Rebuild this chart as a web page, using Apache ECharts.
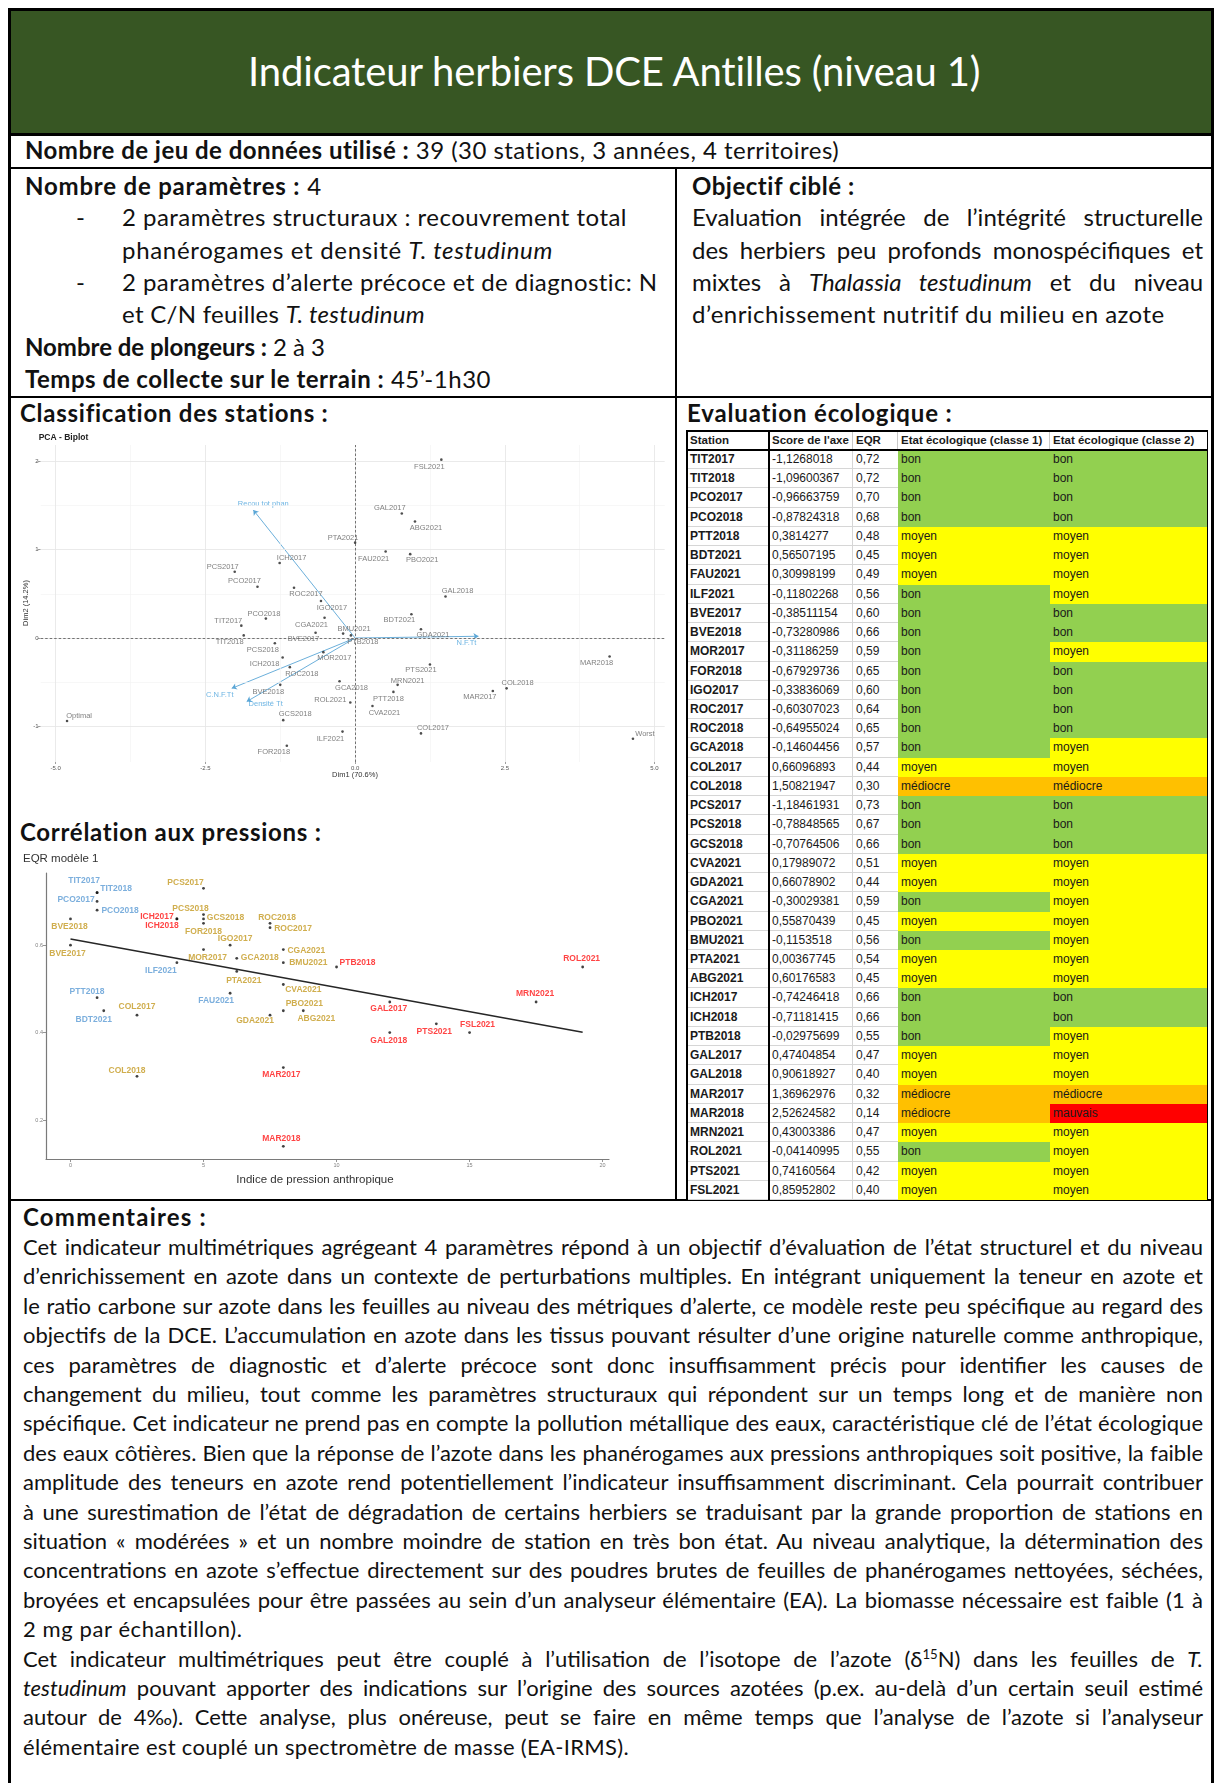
<!DOCTYPE html>
<html lang="fr"><head><meta charset="utf-8">
<script src="https://cdn.jsdelivr.net/npm/echarts@6/dist/echarts.min.js"></script>
<style>
html,body{margin:0;padding:0;background:#fff;}
body{width:1215px;height:1783px;position:relative;overflow:hidden;font-family:Lato,"Open Sans",sans-serif;color:#111;}
.ln{position:absolute;background:#000;}
.tx{position:absolute;white-space:nowrap;line-height:32px;height:32px;}
.tx .in{display:inline-block;white-space:nowrap;}
.tx sup{font-size:0.6em;line-height:0;vertical-align:0.6em;}
#hdr{position:absolute;left:10px;top:10px;width:1202px;height:124px;background:#375623;}
#tbl{position:absolute;left:687px;top:431px;width:520px;height:769px;font-family:"Liberation Sans",Arial,sans-serif;color:#1a1a1a;}
.cell{position:absolute;box-sizing:border-box;padding-left:3px;white-space:nowrap;overflow:hidden;}
#pca{position:absolute;left:20px;top:430px;width:655px;height:362px;}
#cor{position:absolute;left:20px;top:850px;width:600px;height:345px;}
</style></head>
<body>
<div id="hdr"></div>
<div class="ln" style="left:8px;top:8px;width:1206px;height:3px"></div>
<div class="ln" style="left:8px;top:8px;width:3px;height:1790px"></div>
<div class="ln" style="left:1211px;top:8px;width:3px;height:1790px"></div>
<div class="ln" style="left:8px;top:133px;width:1206px;height:3px"></div>
<div class="ln" style="left:8px;top:167px;width:1206px;height:2px"></div>
<div class="ln" style="left:8px;top:396px;width:1206px;height:2px"></div>
<div class="ln" style="left:8px;top:1199px;width:1206px;height:2px"></div>
<div class="ln" style="left:675px;top:168px;width:2px;height:1032px"></div>
<div id="pca"></div>
<div id="cor"></div>
<div id="tbl"></div>
<script>
// ---------------- DATA ----------------
const stations = ['TIT2017','TIT2018','PCO2017','PCO2018','PTT2018','BDT2021','FAU2021','ILF2021','BVE2017','BVE2018','MOR2017','FOR2018','IGO2017','ROC2017','ROC2018','GCA2018','COL2017','COL2018','PCS2017','PCS2018','GCS2018','CVA2021','GDA2021','CGA2021','PBO2021','BMU2021','PTA2021','ABG2021','ICH2017','ICH2018','PTB2018','GAL2017','GAL2018','MAR2017','MAR2018','MRN2021','ROL2021','PTS2021','FSL2021'];
const axisScores = [-1.1268018,-1.09600367,-0.96663759,-0.87824318,0.3814277,0.56507195,0.30998199,-0.11802268,-0.38511154,-0.73280986,-0.31186259,-0.67929736,-0.33836069,-0.60307023,-0.64955024,-0.14604456,0.66096893,1.50821947,-1.18461931,-0.78848565,-0.70764506,0.17989072,0.66078902,-0.30029381,0.55870439,-0.1153518,0.00367745,0.60176583,-0.74246418,-0.71181415,-0.02975699,0.47404854,0.90618927,1.36962976,2.52624582,0.43003386,-0.04140995,0.74160564,0.85952802];
const eqr = [0.72,0.72,0.70,0.68,0.48,0.45,0.49,0.56,0.60,0.66,0.59,0.65,0.60,0.64,0.65,0.57,0.44,0.30,0.73,0.67,0.66,0.51,0.44,0.59,0.45,0.56,0.54,0.45,0.66,0.66,0.55,0.47,0.40,0.32,0.14,0.47,0.55,0.42,0.40];
const etatClasse1 = ['bon','bon','bon','bon','moyen','moyen','moyen','bon','bon','bon','bon','bon','bon','bon','bon','bon','moyen','médiocre','bon','bon','bon','moyen','moyen','bon','moyen','bon','moyen','moyen','bon','bon','bon','moyen','moyen','médiocre','médiocre','moyen','bon','moyen','moyen'];
const etatClasse2 = ['bon','bon','bon','bon','moyen','moyen','moyen','moyen','bon','bon','moyen','bon','bon','bon','bon','moyen','moyen','médiocre','bon','bon','bon','moyen','moyen','moyen','moyen','moyen','moyen','moyen','bon','bon','moyen','moyen','moyen','médiocre','mauvais','moyen','moyen','moyen','moyen'];
// PCA individual coordinates (Dim1, Dim2)
const pcaDim1 = [-1.90,-1.86,-1.63,-1.49,0.64,0.94,0.51,-0.21,-0.66,-1.25,-0.53,-1.14,-0.57,-1.02,-1.09,-0.26,1.10,2.53,-2.01,-1.34,-1.20,0.29,1.10,-0.51,0.92,-0.20,0.00,1.00,-1.26,-1.21,-0.07,0.78,1.51,2.30,4.25,0.71,-0.08,1.25,1.44];
const pcaDim2 = [0.14,0.03,0.58,0.22,-0.61,0.27,0.98,-1.06,0.06,-0.53,-0.16,-1.22,0.42,0.57,-0.33,-0.49,-1.08,-0.57,0.75,-0.06,-0.93,-0.77,0.10,0.23,0.95,0.05,1.08,1.32,0.85,-0.22,0.03,1.41,0.47,-0.60,-0.21,-0.53,-0.73,-0.30,2.02];
const pcaRefNames = ['Optimal','Worst'];
const pcaRefDim1 = [-4.81,4.64];
const pcaRefDim2 = [-0.94,-1.14];
const pcaVarNames = ['Recou tot phan','N.F.Tt','C.N.F.Tt','Densité Tt'];
const pcaVarDim1 = [-1.70,2.06,-2.06,-1.81];
const pcaVarDim2 = [1.45,0.02,-0.57,-0.72];
const pcaTicksX = [-5,-2.5,0,2.5,5];
const pcaTicksY = [-1,0,1,2];
// Correlation with pressures
const pressureIndex = [1,1,1,1,1,1.25,6,4,0,0,5,5,6,7.5,7.5,6.25,2.5,2.5,5,5,5,8,7.5,8,8,8,6.25,8.75,4,4,10,12,12,8,8,17.5,19.25,13.75,15];
const territoryGroup = ['g1','g1','g1','g1','g1','g1','g1','g1','g2','g2','g2','g2','g2','g2','g2','g2','g2','g2','g2','g2','g2','g2','g2','g2','g2','g2','g2','g2','g3','g3','g3','g3','g3','g3','g3','g3','g3','g3','g3'];
const trendX = [0,19.25];
const trendY = [0.614,0.401];
const corTicksX = [0,5,10,15,20];
const corTicksY = [0.2,0.4,0.6];

// ------------- label placement (layout, not data) -------------
const pcaLabelOffsets = [[-13,-5],[-14,7],[-13,-6],[-2,-5],[-5,7],[-12,6],[-12,7],[-12,7],[-12,6],[-12,7],[11,6],[-13,6],[11,7],[12,6],[12,7],[12,7],[12,-5],[11,-5],[-12,-5],[-12,7],[12,-6],[12,7],[12,6],[-13,7],[12,6],[11,-5],[-12,-5],[11,6],[12,-5],[-18,6],[12,7],[-12,-6],[12,-6],[-13,6],[-13,6],[10,-4],[-20,-3],[-9,5],[-12,7]];
const pcaRefOffsets = [[12,-5],[12,-5]];
const pcaVarOffsets = [[10,-6],[-12,7],[-12,7],[19,2]];
const corLabelOffsets = [[-13,-12],[19,-4],[-21,-2],[23,0],[-10,-6],[-10,9],[-14,7],[-16,8],[-3,9],[-1,8],[4,8],[0,8],[5,-6],[23,1],[7,-6],[23,-1],[0,-8],[-10,-6],[-18,-6],[-13,-6],[22,-1],[20,5],[-15,6],[23,1],[21,-7],[25,0],[7,9],[13,8],[-20,-2],[-15,7],[21,-4],[-1,7],[-1,8],[-2,7],[-2,-8],[-1,-8],[-1,-8],[-2,8],[8,-8]];
const groupColors = {g1:'#5b9bd5', g2:'#c49a22', g3:'#ff1414'};
const stateColors = {'bon':'#92d050','moyen':'#ffff00','médiocre':'#ffc000','mauvais':'#ff0000'};

// ---------------- TEXT ----------------
// [x, yCenter, targetWidth, mode, fontSize, html, color]
const UP = 24;
const textLines = [
 [248,72,733,'f',40,'Indicateur herbiers DCE Antilles (niveau 1)','#fff'],
 [25,151,815,'f',UP,'<b>Nombre de jeu de données utilisé :</b> 39 (30 stations, 3 années, 4 territoires)'],
 [25,187,297,'f',UP,'<b>Nombre de paramètres :</b> 4'],
 [76,218,0,'',UP,'-'],
 [122,218,505,'f',UP,'2 paramètres structuraux : recouvrement total'],
 [122,251,431,'f',UP,'phanérogames et densité <i>T. testudinum</i>'],
 [76,283,0,'',UP,'-'],
 [122,283,536,'f',UP,'2 paramètres d’alerte précoce et de diagnostic: N'],
 [122,315,303,'f',UP,'et C/N feuilles <i>T. testudinum</i>'],
 [25,348,300,'f',UP,'<b>Nombre de plongeurs :</b> 2 à 3'],
 [25,380,466,'f',UP,'<b>Temps de collecte sur le terrain :</b> 45’-1h30'],
 [692,187,163,'f',UP,'<b>Objectif ciblé :</b>'],
 [692,218,511,'j',UP,'Evaluation intégrée de l’intégrité structurelle'],
 [692,251,511,'j',UP,'des herbiers peu profonds monospécifiques et'],
 [692,283,511,'j',UP,'mixtes à <i>Thalassia testudinum</i> et du niveau'],
 [692,315,473,'f',UP,'d’enrichissement nutritif du milieu en azote'],
 [20,414,309,'f',UP,'<b>Classification des stations :</b>'],
 [687,414,266,'f',UP,'<b>Evaluation écologique :</b>'],
 [20,833,302,'f',UP,'<b>Corrélation aux pressions :</b>'],
 [23,1218,184,'f',UP,'<b>Commentaires :</b>']
];
const commentLines = [
 ['j','Cet indicateur multimétriques agrégeant 4 paramètres répond à un objectif d’évaluation de l’état structurel et du niveau'],
 ['j','d’enrichissement en azote dans un contexte de perturbations multiples. En intégrant uniquement la teneur en azote et'],
 ['j','le ratio carbone sur azote dans les feuilles au niveau des métriques d’alerte, ce modèle reste peu spécifique au regard des'],
 ['j','objectifs de la DCE. L’accumulation en azote dans les tissus pouvant résulter d’une origine naturelle comme anthropique,'],
 ['j','ces paramètres de diagnostic et d’alerte précoce sont donc insuffisamment précis pour identifier les causes de'],
 ['j','changement du milieu, tout comme les paramètres structuraux qui répondent sur un temps long et de manière non'],
 ['j','spécifique. Cet indicateur ne prend pas en compte la pollution métallique des eaux, caractéristique clé de l’état écologique'],
 ['j','des eaux côtières. Bien que la réponse de l’azote dans les phanérogames aux pressions anthropiques soit positive, la faible'],
 ['j','amplitude des teneurs en azote rend potentiellement l’indicateur insuffisamment discriminant. Cela pourrait contribuer'],
 ['j','à une surestimation de l’état de dégradation de certains herbiers se traduisant par la grande proportion de stations en'],
 ['j','situation « modérées » et un nombre moindre de station en très bon état. Au niveau analytique, la détermination des'],
 ['j','concentrations en azote s’effectue directement sur des poudres brutes de feuilles de phanérogames nettoyées, séchées,'],
 ['j','broyées et encapsulées pour être passées au sein d’un analyseur élémentaire (EA). La biomasse nécessaire est faible (1 à'],
 ['f220','2 mg par échantillon).'],
 ['j','Cet indicateur multimétriques peut être couplé à l’utilisation de l’isotope de l’azote (δ<sup>15</sup>N) dans les feuilles de <i>T.</i>'],
 ['j','<i>testudinum</i> pouvant apporter des indications sur l’origine des sources azotées (p.ex. au-delà d’un certain seuil estimé'],
 ['j','autour de 4‰). Cette analyse, plus onéreuse, peut se faire en même temps que l’analyse de l’azote si l’analyseur'],
 ['f606','élémentaire est couplé un spectromètre de masse (EA-IRMS).']
];
commentLines.forEach((c,i)=>{
  const mode = c[0]==='j' ? 'j' : 'f';
  const w = c[0]==='j' ? 1180 : parseFloat(c[0].slice(1));
  textLines.push([23, 1248 + i*29.4, w, mode, 22, c[1]]);
});

const spans = [];
textLines.forEach(t=>{
  const d = document.createElement('div');
  d.className='tx';
  d.style.left = t[0]+'px';
  d.style.top = (t[1]-17)+'px';
  d.style.fontSize = t[4]+'px';
  if (t[6]) d.style.color = t[6];
  if (t[4] > 30) { d.style.lineHeight='48px'; d.style.height='48px'; d.style.top=(t[1]-25)+'px'; }
  const s = document.createElement('span');
  s.className='in';
  s.innerHTML = t[5];
  d.appendChild(s);
  document.body.appendChild(d);
  spans.push([s,t[2],t[3]]);
});
function fitAll(){
  spans.forEach(([s,target,mode])=>{
    s.style.letterSpacing=''; s.style.wordSpacing='';
    if(!target) return;
    const w = s.getBoundingClientRect().width;
    const txt = s.textContent;
    const sp = (txt.match(/ /g)||[]).length;
    if(mode==='j' && w<target && sp>0){ s.style.wordSpacing = ((target-w)/sp)+'px'; }
    else { s.style.letterSpacing = ((target-w)/txt.length)+'px'; }
  });
}
fitAll();
if (document.fonts && document.fonts.ready) document.fonts.ready.then(fitAll);

// ---------------- TABLE ----------------
(function(){
  const tbl = document.getElementById('tbl');
  const colX = [0,82,166,211,363,520];
  const headH = 19, rowH = (769-19)/39;
  const headers = ['Station','Score de l\'axe','EQR','Etat écologique (classe 1)','Etat écologique (classe 2)'];
  function cell(x,y,w,h,html,st){
    const c=document.createElement('div'); c.className='cell';
    c.style.left=x+'px'; c.style.top=y+'px'; c.style.width=w+'px'; c.style.height=h+'px';
    c.style.lineHeight=h+'px';
    Object.assign(c.style, st||{});
    c.innerHTML=html; tbl.appendChild(c);
  }
  headers.forEach((h,j)=>{
    cell(colX[j],0,colX[j+1]-colX[j],headH,h,{fontWeight:'bold',fontSize:'11.5px',borderRight: j<4?'1px solid #c8c8c8':'none'});
  });
  const fmt = v => String(v).replace('.',',');
  stations.forEach((s,i)=>{
    const y = headH + i*rowH;
    const line = '1px solid #d6d6d6';
    cell(colX[0],y,colX[1]-colX[0],rowH,s,{fontWeight:'bold',fontSize:'12px',borderBottom:line});
    cell(colX[1],y,colX[2]-colX[1],rowH,fmt(axisScores[i]),{fontSize:'12px',borderBottom:line,borderRight:line});
    cell(colX[2],y,colX[3]-colX[2],rowH,eqr[i].toFixed(2).replace('.',','),{fontSize:'12px',borderBottom:line});
    cell(colX[3],y,colX[4]-colX[3],rowH+0.5,etatClasse1[i],{fontSize:'12px',background:stateColors[etatClasse1[i]]});
    cell(colX[4],y,colX[5]-colX[4],rowH+0.5,etatClasse2[i],{fontSize:'12px',background:stateColors[etatClasse2[i]]});
  });
  const b = (x,y,w,h)=>{const d=document.createElement('div');d.style.cssText='position:absolute;background:#000;left:'+x+'px;top:'+y+'px;width:'+w+'px;height:'+h+'px';tbl.appendChild(d);};
  b(-1,-1,522,1.5); b(-1,-1,1.5,771); b(519.5,-1,1.5,771); b(-1,768.5,522,1.5);
  b(0,headH-1,520,1.5); b(81,0,1.5,769);
})();

// ---------------- PCA BIPLOT ----------------
const pcaChart = echarts.init(document.getElementById('pca'), null, {renderer:'canvas'});
const lblFont = '"Liberation Sans", Arial, sans-serif';
const pcaPoints = stations.map((s,i)=>({name:s, value:[pcaDim1[i],pcaDim2[i]], label:{offset:pcaLabelOffsets[i]}}));
const pcaRefPoints = pcaRefNames.map((s,i)=>({name:s, value:[pcaRefDim1[i],pcaRefDim2[i]], label:{offset:pcaRefOffsets[i]}}));
const gridMajor = '#e8e8e8', gridMinor = '#f3f3f3';
const pcaGrid = [];
[-3.75,-1.25,1.25,3.75].forEach(v=>pcaGrid.push({xAxis:v,lineStyle:{color:gridMinor,width:0.7,type:'solid'}}));
[-0.5,0.5,1.5].forEach(v=>pcaGrid.push({yAxis:v,lineStyle:{color:gridMinor,width:0.7,type:'solid'}}));
pcaTicksX.forEach(v=>pcaGrid.push({xAxis:v,lineStyle:{color:gridMajor,width:0.9,type:'solid'}}));
pcaTicksY.forEach(v=>pcaGrid.push({yAxis:v,lineStyle:{color:gridMajor,width:0.9,type:'solid'}}));
pcaChart.setOption({
  animation:false,
  grid:{left:20.7,top:15,width:624,height:317,containLabel:false},
  xAxis:{type:'value',min:-5.25,max:5.17,
    axisLine:{show:false,onZero:false},
    axisTick:{show:true,customValues:pcaTicksX,length:2,lineStyle:{color:'#888',width:0.8}},
    axisLabel:{customValues:pcaTicksX,formatter:v=>v.toFixed(1),fontSize:6,color:'#555',margin:3,fontFamily:lblFont},
    splitLine:{show:false}},
  yAxis:{type:'value',min:-1.404,max:2.186,
    axisLine:{show:false,onZero:false},
    axisTick:{show:true,customValues:pcaTicksY,length:3,lineStyle:{color:'#888',width:0.8}},
    axisLabel:{customValues:pcaTicksY,formatter:v=>String(v),fontSize:6,color:'#555',margin:2,fontFamily:lblFont},
    splitLine:{show:false}},
  graphic:[
    {type:'text',x:18.7,y:8,style:{text:'PCA - Biplot',font:'bold 8.5px "Liberation Sans", Arial, sans-serif',fill:'#222',verticalAlign:'middle'}},
    {type:'text',x:335,y:345,style:{text:'Dim1 (70.6%)',font:'7.5px "Liberation Sans", Arial, sans-serif',fill:'#333',align:'center',verticalAlign:'middle'}},
    {type:'text',x:6,y:173,rotation:Math.PI/2,style:{text:'Dim2 (14.2%)',font:'7.5px "Liberation Sans", Arial, sans-serif',fill:'#333',align:'center',verticalAlign:'middle'}}
  ],
  series:[
    {type:'scatter',data:pcaPoints.map(p=>p.value),symbolSize:0,silent:true,z:1,
      markLine:{silent:true,symbol:'none',label:{show:false},animation:false,data:pcaGrid}},
    {type:'scatter',data:pcaPoints.map(p=>p.value),symbolSize:0,silent:true,z:2,
      markLine:{silent:true,symbol:'none',label:{show:false},animation:false,
        data:[{xAxis:0},{yAxis:0}],lineStyle:{color:'#666',width:0.9,type:[2.5,2]}}},
    {type:'lines',coordinateSystem:'cartesian2d',z:3,silent:true,
      symbol:['none','arrow'],symbolSize:[0,5],
      lineStyle:{color:'#5aa6d6',width:0.9,opacity:1},
      data:pcaVarNames.map((n,i)=>({coords:[[0,0],[pcaVarDim1[i],pcaVarDim2[i]]]}))},
    {type:'scatter',z:4,silent:true,symbolSize:0,
      data:pcaVarNames.map((n,i)=>({name:n,value:[pcaVarDim1[i],pcaVarDim2[i]],label:{offset:pcaVarOffsets[i]}})),
      label:{show:true,position:'inside',formatter:p=>p.name,fontSize:7.5,color:'#4aa3dc',fontFamily:lblFont}},
    {type:'scatter',z:5,silent:true,symbolSize:2.6,itemStyle:{color:'#222'},
      data:pcaPoints.concat(pcaRefPoints),
      label:{show:true,position:'inside',formatter:p=>p.name,fontSize:7.5,color:'#5f5f5f',fontFamily:lblFont},
      emphasis:{disabled:true}}
  ]
});

// ---------------- CORRELATION ----------------
const corChart = echarts.init(document.getElementById('cor'), null, {renderer:'canvas'});
const corPoints = stations.map((s,i)=>({name:s,value:[pressureIndex[i],eqr[i]],
  label:{offset:corLabelOffsets[i],color:groupColors[territoryGroup[i]]}}));
corChart.setOption({
  animation:false,
  grid:{left:26,top:23,width:563,height:286,containLabel:false},
  xAxis:{type:'value',min:-0.92,max:20.24,
    axisLine:{show:true,onZero:false,lineStyle:{color:'#7a7a7a',width:1.2}},
    axisTick:{show:true,customValues:corTicksX,length:3,lineStyle:{color:'#7a7a7a',width:0.8}},
    axisLabel:{customValues:corTicksX,formatter:v=>String(v),fontSize:5.5,color:'#808080',margin:3,fontFamily:lblFont},
    splitLine:{show:false}},
  yAxis:{type:'value',min:0.111,max:0.765,
    axisLine:{show:true,onZero:false,lineStyle:{color:'#7a7a7a',width:1.2}},
    axisTick:{show:true,customValues:corTicksY,length:3,lineStyle:{color:'#7a7a7a',width:0.8}},
    axisLabel:{customValues:corTicksY,formatter:v=>v.toFixed(1),fontSize:5.5,color:'#808080',margin:3,fontFamily:lblFont},
    splitLine:{show:false}},
  graphic:[
    {type:'text',x:3,y:9,style:{text:'EQR modèle 1',font:'11.5px "Liberation Sans", Arial, sans-serif',fill:'#333',verticalAlign:'middle'}},
    {type:'text',x:295,y:330,style:{text:'Indice de pression anthropique',font:'11.5px "Liberation Sans", Arial, sans-serif',fill:'#333',align:'center',verticalAlign:'middle'}}
  ],
  series:[
    {type:'line',z:2,silent:true,symbol:'none',data:trendX.map((x,i)=>[x,trendY[i]]),
      lineStyle:{color:'#262626',width:1.5}},
    {type:'scatter',z:3,silent:true,symbolSize:2.8,itemStyle:{color:'#111'},data:corPoints,
      label:{show:true,position:'inside',formatter:p=>p.name,fontSize:8.5,fontWeight:'bold',fontFamily:lblFont},
      emphasis:{disabled:true}}
  ]
});
</script>
</body></html>
